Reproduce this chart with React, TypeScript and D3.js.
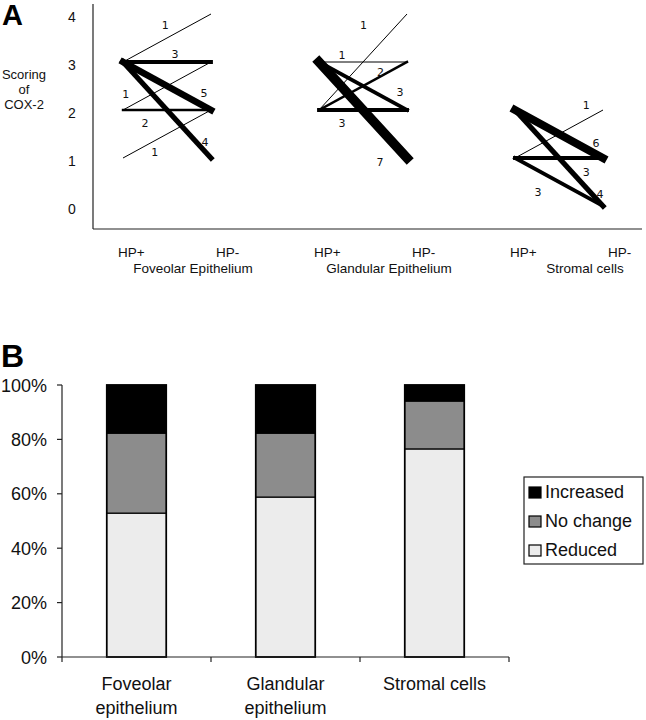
import React from "react";
import * as d3 from "d3";

// ---------- Panel A data ----------
const groups = ["Foveolar Epithelium", "Glandular Epithelium", "Stromal cells"];
const scoreTicks = [0, 1, 2, 3, 4];
const transGroup = [0, 0, 0, 0, 0, 0, 0, 1, 1, 1, 1, 1, 1, 2, 2, 2, 2, 2];
const fromScore = [3, 3, 3, 3, 2, 2, 1, 2, 3, 2, 3, 2, 3, 1, 2, 1, 2, 1];
const toScore = [4, 3, 2, 1, 3, 2, 2, 4, 3, 3, 2, 2, 1, 2, 1, 1, 0, 0];
const counts = [1, 3, 5, 4, 1, 2, 1, 1, 1, 2, 3, 3, 7, 1, 6, 3, 4, 3];

// label placement along each line (fraction t, pixel offsets)
const labelT = [0.48, 0.59, 0.92, 0.92, 0.03, 0.25, 0.36, 0.7, 0.26, 0.7, 0.92, 0.26, 1, 0.81, 0.92, 0.81, 0.92, 0.26];
const labelDx = [0, 0, 0, 1, 0, 0, 0, -17, 0, 0, 0, 0, -27, 0, 0, 0, 4, 0];
const labelDy = [-14, -8, -13, -8, -15, 13, 11, -18, -7, -4, -14, 13, 4, -14, -11, 14, -4, 22];

// ---------- Panel B data ----------
const categories = ["Foveolar epithelium", "Glandular epithelium", "Stromal cells"];
const categoryLines = [["Foveolar", "epithelium"], ["Glandular", "epithelium"], ["Stromal cells"]];
const seriesNames = ["Reduced", "No change", "Increased"];
const reduced = [52.9, 58.8, 76.5];
const noChange = [29.4, 23.5, 17.6];
const increased = [17.7, 17.7, 5.9];
const pctTicks = [0, 20, 40, 60, 80, 100];
const seriesColors = ["#ececec", "#8c8c8c", "#000000"];

export default function App() {
  const W = 646, H = 720;

  // Panel A scales
  const yA = d3.scaleLinear().domain([0, 4]).range([206, 14]);
  const gx = d3.scalePoint<string>().domain(groups).range([123, 515]);
  const hpDx = 88;
  const widthScale = d3.scaleLinear().domain([1, 7]).range([1, 9.5]);

  const lineGen = d3.line<[number, number]>().x((d) => d[0]).y((d) => d[1]);

  const trans = counts.map((n, i) => {
    const x0 = gx(groups[transGroup[i]])!;
    const x1 = x0 + hpDx;
    const y0 = yA(fromScore[i]);
    const y1 = yA(toScore[i]);
    const t = labelT[i];
    return {
      n, x0, x1, y0, y1,
      lx: x0 + (x1 - x0) * t + labelDx[i],
      ly: y0 + (y1 - y0) * t + labelDy[i],
    };
  });
  const drawOrder = d3.range(trans.length).sort((a, b) => counts[a] - counts[b]);

  // Panel B scales
  const yB = d3.scaleLinear().domain([0, 100]).range([657, 385]);
  const xB = d3.scaleBand<string>().domain(categories).range([62, 509]).paddingInner(0.6).paddingOuter(0.3);
  const table = categories.map((c, i) => ({ cat: c, Reduced: reduced[i], "No change": noChange[i], Increased: increased[i] }));
  const stacked = d3.stack<any>().keys(seriesNames)(table);
  const step = xB.step();
  const boundaries = d3.range(categories.length + 1).map((i) => 62 + i * step);

  const fontA = "'Liberation Sans', Arial, sans-serif";
  const fontNum = "'DejaVu Sans', Verdana, sans-serif";

  return (
    <svg width={W} height={H} style={{ position: "absolute", left: 0, top: 0, background: "#fff" }}>
      <rect x={0} y={0} width={W} height={H} fill="#fff" />
      {/* ---------------- Panel A ---------------- */}
      <text x={2} y={25} fontFamily={fontA} fontWeight="bold" fontSize={29}>A</text>
      <g fontFamily={fontA} fontSize={13} textAnchor="middle" fill="#111">
        <text x={24} y={79}>Scoring</text>
        <text x={24} y={94}>of</text>
        <text x={24} y={109}>COX-2</text>
      </g>
      <g fontFamily={fontA} fontSize={14} textAnchor="middle" fill="#111">
        {scoreTicks.map((s) => (
          <text key={s} x={72} y={yA(s) + 8}>{s}</text>
        ))}
      </g>
      <line x1={93} y1={4} x2={93} y2={229} stroke="#222" strokeWidth={1.2} />
      <line x1={93} y1={229} x2={642} y2={229} stroke="#222" strokeWidth={1.2} />
      {drawOrder.map((i) => {
        const d = trans[i];
        return (
          <path
            key={i}
            d={lineGen([[d.x0, d.y0], [d.x1, d.y1]])!}
            stroke="#000"
            strokeWidth={widthScale(d.n)}
            strokeLinecap={d.n > 1 ? "square" : "butt"}
            fill="none"
          />
        );
      })}
      <g fontFamily={fontNum} fontSize={11} textAnchor="middle" fill="#111">
        {trans.map((d, i) => (
          <text key={i} x={d.lx} y={d.ly + 4}>{d.n}</text>
        ))}
      </g>
      <g fontFamily={fontA} fontSize={13.5} fill="#111">
        {groups.map((g) => {
          const x0 = gx(g)!;
          return (
            <g key={g}>
              <text x={x0 - 5} y={257}>HP+</text>
              <text x={x0 + hpDx + 5} y={257}>HP-</text>
              <text x={x0 + hpDx / 2 + 26} y={273} textAnchor="middle">{g}</text>
            </g>
          );
        })}
      </g>

      {/* ---------------- Panel B ---------------- */}
      <text x={1} y={367} fontFamily={fontA} fontWeight="bold" fontSize={32}>B</text>
      {stacked.map((layer, si) => (
        <g key={layer.key}>
          {layer.map((seg, ci) => (
            <rect
              key={ci}
              x={xB(categories[ci])!}
              y={yB(seg[1])}
              width={xB.bandwidth()}
              height={yB(seg[0]) - yB(seg[1])}
              fill={seriesColors[si]}
              stroke="#000"
              strokeWidth={1.2}
            />
          ))}
        </g>
      ))}
      {categories.map((c) => (
        <rect key={c} x={xB(c)!} y={yB(100)} width={xB.bandwidth()} height={yB(0) - yB(100)} fill="none" stroke="#000" strokeWidth={1.6} />
      ))}
      <line x1={62} y1={yB(100)} x2={62} y2={yB(0)} stroke="#222" strokeWidth={1.2} />
      <line x1={62} y1={yB(0)} x2={509} y2={yB(0)} stroke="#222" strokeWidth={1.2} />
      {pctTicks.map((p) => (
        <g key={p}>
          <line x1={57} y1={yB(p)} x2={62} y2={yB(p)} stroke="#222" strokeWidth={1.2} />
          <text x={47} y={yB(p) + 6.5} textAnchor="end" fontFamily={fontA} fontSize={18} fill="#111">{p}%</text>
        </g>
      ))}
      {boundaries.map((b, i) => (
        <line key={i} x1={b} y1={yB(0)} x2={b} y2={yB(0) + 5} stroke="#222" strokeWidth={1.2} />
      ))}
      <g fontFamily={fontA} fontSize={18} textAnchor="middle" fill="#111">
        {categories.map((c, i) => (
          <text key={c} x={xB(c)! + xB.bandwidth() / 2}>
            {categoryLines[i].map((ln, j) => (
              <tspan key={j} x={xB(c)! + xB.bandwidth() / 2} y={690 + j * 24}>{ln}</tspan>
            ))}
          </text>
        ))}
      </g>
      {/* legend */}
      <rect x={524} y={477} width={119} height={87} fill="#fff" stroke="#222" strokeWidth={1.2} />
      {seriesNames.slice().reverse().map((s, k) => {
        const si = seriesNames.length - 1 - k;
        const yy = 487 + k * 29;
        return (
          <g key={s}>
            <rect x={529} y={yy} width={12} height={11} fill={seriesColors[si]} stroke="#000" strokeWidth={1.2} />
            <text x={545} y={yy + 11} fontFamily={fontA} fontSize={18} fill="#111">{s}</text>
          </g>
        );
      })}
    </svg>
  );
}
